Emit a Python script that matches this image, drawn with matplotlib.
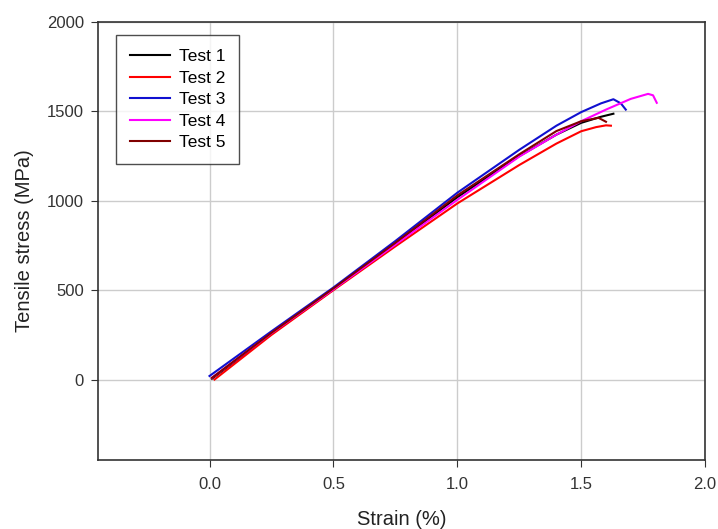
import matplotlib.pyplot as plt

plt.rcParams['font.family'] = ['Liberation Sans', 'DejaVu Sans']

# strain (%) / stress (MPa)
strain1 = [0.01, 0.25, 0.5, 0.75, 1.0, 1.25, 1.4, 1.5, 1.58, 1.63]
stress1 = [5, 255, 505, 760, 1020, 1250, 1370, 1436, 1470, 1487]

strain2 = [0.02, 0.25, 0.5, 0.75, 1.0, 1.25, 1.4, 1.5, 1.56, 1.6, 1.62]
stress2 = [0, 250, 500, 745, 985, 1200, 1320, 1389, 1412, 1422, 1420]

strain3 = [0.0, 0.25, 0.5, 0.75, 1.0, 1.25, 1.4, 1.5, 1.58, 1.63, 1.66, 1.68]
stress3 = [20, 270, 515, 775, 1045, 1285, 1420, 1496, 1545, 1568, 1545, 1510]

strain4 = [0.01, 0.25, 0.5, 0.75, 1.0, 1.25, 1.4, 1.5, 1.6, 1.7, 1.77, 1.79, 1.805]
stress4 = [10, 260, 505, 755, 1005, 1247, 1370, 1445, 1510, 1570, 1598, 1590, 1548]

strain5 = [0.01, 0.25, 0.5, 0.75, 1.0, 1.25, 1.4, 1.5, 1.57, 1.6]
stress5 = [10, 262, 510, 765, 1030, 1260, 1390, 1445, 1464, 1442]

labels = ['Test 1', 'Test 2', 'Test 3', 'Test 4', 'Test 5']
colors = ['#000000', '#ff0000', '#1010d0', '#ff00ff', '#800000']

fig = plt.figure(figsize=(7.18, 5.29), dpi=100)
ax = fig.add_axes([0.1365, 0.1304, 0.8455, 0.828])

data = [(strain1, stress1), (strain2, stress2), (strain3, stress3),
        (strain4, stress4), (strain5, stress5)]
for (x, y), lab, c in zip(data, labels, colors):
    ax.plot(x, y, color=c, lw=1.5, label=lab)

ax.set_xlim(-0.45, 2.0)
ax.set_ylim(-450, 2000)
ax.set_xticks([0.0, 0.5, 1.0, 1.5, 2.0])
ax.set_xticklabels(['0.0', '0.5', '1.0', '1.5', '2.0'])
ax.set_yticks([0, 500, 1000, 1500, 2000])
ax.grid(True, color='#cccccc', lw=1)
ax.set_axisbelow(True)

for s in ax.spines.values():
    s.set_color('#333333')
    s.set_linewidth(1.2)
ax.tick_params(direction='out', length=5, colors='#333333', labelsize=12)
ax.tick_params(axis='x', pad=7)
ax.tick_params(axis='y', pad=5)

ax.set_xlabel('Strain (%)', fontsize=14.5, color='#222222', labelpad=13)
ax.set_ylabel('Tensile stress (MPa)', fontsize=14.5, color='#222222', labelpad=9)

leg = ax.legend(loc='upper left', bbox_to_anchor=(0.0297, 0.970), fontsize=12.5,
                frameon=True, fancybox=False, edgecolor='#222222',
                handlelength=2.3, handletextpad=0.5, labelspacing=0.37,
                borderpad=0.8, borderaxespad=0)
leg.get_frame().set_linewidth(1.0)

plt.savefig('out.png', dpi=100)
